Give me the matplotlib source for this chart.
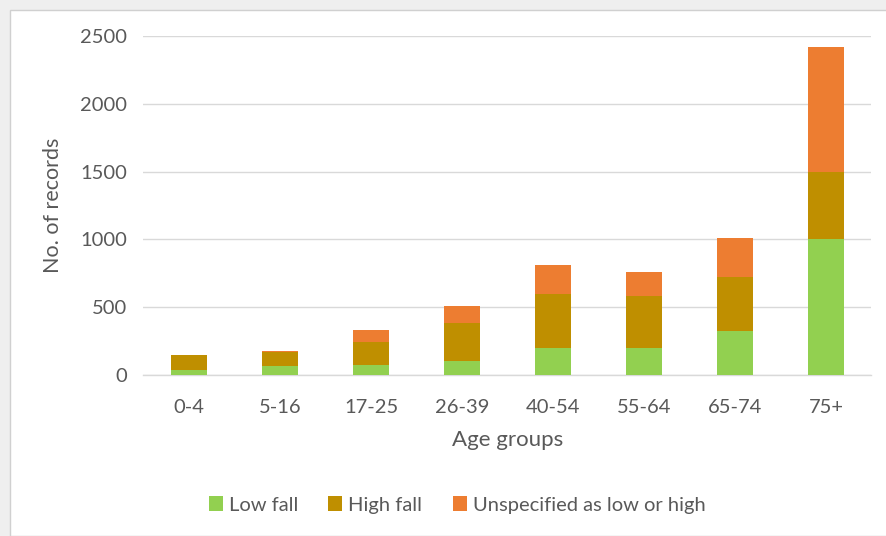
import matplotlib
matplotlib.use("Agg")
import matplotlib.pyplot as plt
from matplotlib.patches import Rectangle
import numpy as np

age_groups = ["0-4", "5-16", "17-25", "26-39", "40-54", "55-64", "65-74", "75+"]
low_fall = [40, 70, 75, 105, 200, 200, 325, 1000]
high_fall = [105, 100, 170, 280, 400, 385, 395, 500]
unspecified = [5, 5, 85, 125, 210, 175, 290, 920]
y_ticks = [0, 500, 1000, 1500, 2000, 2500]

colors = {"low": "#92D050", "high": "#BF8F00", "unspec": "#ED7D31"}
text_color = "#595959"

plt.rcParams["font.family"] = ["Lato", "DejaVu Sans"]

fig = plt.figure(figsize=(8.87, 5.36), dpi=100)
fig.patch.set_facecolor("#EFEFEF")
# white chart area with a thin grey frame, kept behind the axes
fig.patches.append(Rectangle((10 / 887, 0), 1, 1 - 10 / 536, transform=fig.transFigure,
                             facecolor="white", edgecolor="#D0D0D0", linewidth=1.0,
                             zorder=-10))

ax = fig.add_axes([143.5 / 887, 161 / 536, 728 / 887, 339 / 536])
ax.set_zorder(1)
ax.set_facecolor("white")

x = np.arange(len(age_groups))
w = 0.40
low = np.array(low_fall)
high = np.array(high_fall)
uns = np.array(unspecified)
ax.bar(x, low, w, color=colors["low"], label="Low fall", zorder=3)
ax.bar(x, high, w, bottom=low, color=colors["high"], label="High fall", zorder=3)
ax.bar(x, uns, w, bottom=low + high, color=colors["unspec"],
       label="Unspecified as low or high", zorder=3)

ax.set_xlim(-0.5, len(age_groups) - 0.5)
ax.set_ylim(0, 2500)
ax.set_yticks(y_ticks)
ax.set_yticklabels([str(t) for t in y_ticks])
ax.set_xticks(x)
ax.set_xticklabels(age_groups)
ax.yaxis.grid(True, color="#D9D9D9", linewidth=1.0, zorder=0)
ax.set_axisbelow(True)
for s in ["top", "right", "left"]:
    ax.spines[s].set_visible(False)
ax.spines["bottom"].set_color("#D9D9D9")
ax.spines["bottom"].set_linewidth(1.0)
ax.tick_params(axis="both", length=0, labelsize=14.5, labelcolor=text_color)
ax.tick_params(axis="y", pad=12)
ax.tick_params(axis="x", pad=17)

ax.set_ylabel("No. of records", fontsize=15.5, color=text_color, labelpad=12)
ax.set_xlabel("Age groups", fontsize=16, color=text_color, labelpad=10)

handles, labels = ax.get_legend_handles_labels()
fig.legend(handles, labels, loc="center", bbox_to_anchor=(457 / 887, 1 - 505 / 536),
           ncol=3, frameon=False, fontsize=14.5, labelcolor=text_color,
           handlelength=0.7, handleheight=0.7, handletextpad=0.3, columnspacing=1.5)

fig.savefig("out.png", dpi=100, facecolor=fig.get_facecolor())
